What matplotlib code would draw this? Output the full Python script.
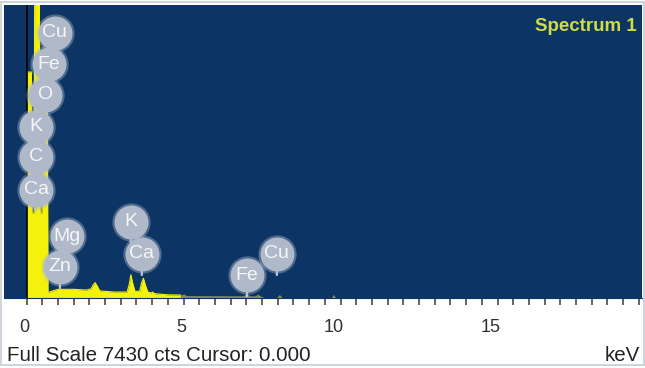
import numpy as np
import matplotlib
matplotlib.use('Agg')
import matplotlib.pyplot as plt
from matplotlib.patches import Rectangle
from matplotlib.transforms import ScaledTranslation

plt.rcParams['font.family'] = ['Liberation Sans', 'DejaVu Sans']

# spectrum: energy (keV) and counts
energy = [0.00, 0.02, 0.03, 0.15, 0.17, 0.24, 0.26, 0.40, 0.43, 0.49, 0.51, 0.66,
          0.68, 0.75, 1.00, 1.50, 1.90, 2.05, 2.12, 2.18, 2.25, 2.33, 2.80, 3.20,
          3.27, 3.32, 3.37, 3.45, 3.60, 3.66, 3.72, 3.78, 3.86, 3.97, 4.02, 4.07,
          4.50, 4.90, 5.00, 5.10, 6.90, 7.00, 7.10, 7.30, 7.35, 7.45, 7.60, 7.95,
          8.05, 8.15, 9.70, 9.77, 9.85, 19.6]
counts = [0, 0, 5730, 5730, 2150, 2150, 9000, 9000, 2150, 2150, 4890, 4890,
          130, 160, 220, 220, 200, 230, 330, 390, 300, 180, 150, 150,
          350, 590, 400, 170, 170, 380, 500, 330, 150, 130, 150, 110,
          80, 75, 100, 60, 55, 110, 55, 55, 100, 50, 0, 0,
          90, 0, 0, 90, 0, 0]

# element markers: label, keV, counts
elements = ['Cu', 'Fe', 'O', 'K', 'C', 'Ca', 'Mg', 'Zn', 'K', 'Ca', 'Fe', 'Cu']
label_kev = [0.90, 0.71, 0.58, 0.30, 0.30, 0.30, 1.28, 1.06, 3.32, 3.67, 7.02, 7.97]
label_cts = [6720, 5930, 5150, 4340, 3580, 2740, 1570, 790, 1930, 1120, 580, 1120]

full_scale = 7430
xmin, xmax = -0.72, 19.6

energy = np.array(energy)
counts = np.array(counts)

fig = plt.figure(figsize=(6.45, 3.68), dpi=100)
ax = fig.add_axes([4/645, 1 - 298/368, 638/645, 293/368])
ax.set_facecolor('#0c3464')

yellow = energy <= 4.9
ax.fill_between(energy, counts, where=yellow, color='#f4f20c', lw=0, zorder=2)
ax.fill_between(energy, counts, where=energy >= 4.9, color='#7f9453', lw=0, zorder=2)
ax.plot(energy[yellow], counts[yellow], color='#f4f20c', lw=0.8, zorder=2)
ax.axvline(0, color='black', lw=1.2, zorder=3)

# element labels
for el, x, y in zip(elements, label_kev, label_cts):
    ax.annotate('', xy=(x, y), xytext=(0, -15.3), textcoords='offset points',
                arrowprops=dict(arrowstyle='-', color='#c3cad6', lw=1.6,
                                shrinkA=0, shrinkB=0), zorder=4)
ax.scatter(label_kev, label_cts, s=760, color='#b0b9c9', alpha=0.4, lw=0, zorder=5)
ax.scatter(label_kev, label_cts, s=600, color='#b0b9c9', lw=0, zorder=5)
for el, x, y in zip(elements, label_kev, label_cts):
    ax.text(x, y, el, color='#f4f6f8', fontsize=14, ha='center', va='center', zorder=6)

ax.set_xlim(xmin, xmax)
ax.set_ylim(0, full_scale)
ax.set_yticks([])
for s in ['left', 'right', 'top']:
    ax.spines[s].set_visible(False)
ax.spines['bottom'].set_color('#0c3464')

ax.set_xticks([0, 5, 10, 15])
ax.set_xticks(np.arange(0, 19.6, 0.5), minor=True)
ax.tick_params(axis='x', which='both', direction='out', length=5, width=1.2,
               color='#4a4a4a', pad=10, labelsize=13, labelcolor='#303030')
offset = ScaledTranslation(3/100, 0, fig.dpi_scale_trans)
for lab in ax.get_xticklabels():
    lab.set_ha('right')
    lab.set_transform(lab.get_transform() + offset)

ax.text(0.992, 0.955, 'Spectrum 1', transform=ax.transAxes, ha='right', va='top',
        color='#cfdb48', fontsize=13.5, fontweight='bold')

fig.text(7/645, 1 - 361/368, 'Full Scale 7430 cts Cursor: 0.000', ha='left',
         va='baseline', fontsize=14.8, color='#222222')
fig.text(640/645, 1 - 361/368, 'keV', ha='right', va='baseline', fontsize=14.8,
         color='#222222')

fig.patches.append(Rectangle((1/645, 3/368), 643/645, 363/368, transform=fig.transFigure,
                             fill=False, edgecolor='#c5ccd6', lw=1.2))

fig.savefig('out.png', dpi=100)
